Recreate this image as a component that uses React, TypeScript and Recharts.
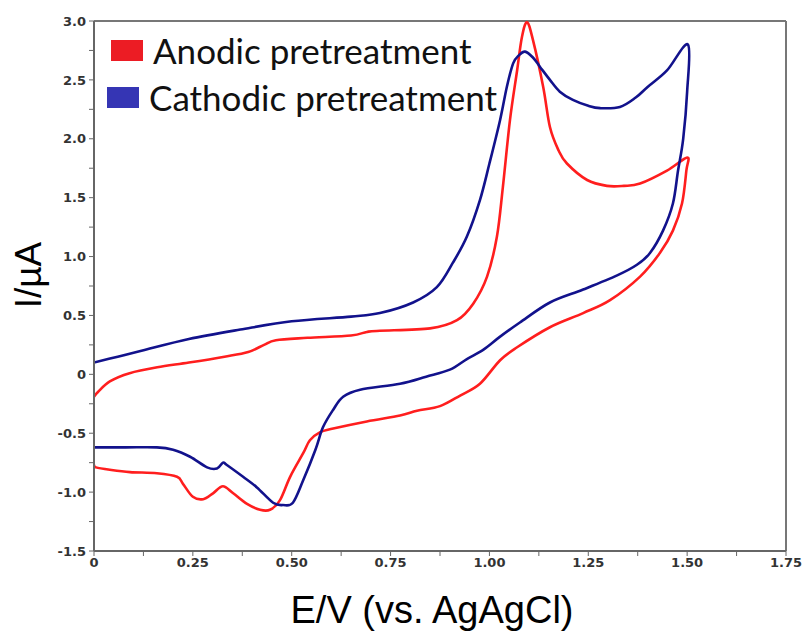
import { Legend, Line, LineChart, ReferenceLine, XAxis, YAxis } from 'recharts';

// potential (V) and current (µA), in scan order
const anodicE = [
  0, 0.01, 0.04, 0.09, 0.16, 0.24, 0.33, 0.39, 0.43, 0.46, 0.54, 0.65, 0.69, 0.723, 0.85, 0.918, 0.959, 0.994,
  1.019, 1.034, 1.052, 1.07, 1.082, 1.095, 1.11, 1.136, 1.153, 1.175, 1.196, 1.247, 1.297, 1.34, 1.381, 1.449, 1.5,
  1.498, 1.487, 1.464, 1.431, 1.381, 1.305, 1.237, 1.153, 1.07, 1.027, 0.976, 0.926, 0.875, 0.817,
  0.774, 0.69, 0.605, 0.572, 0.546, 0.529, 0.496, 0.47, 0.445, 0.42, 0.387, 0.352, 0.326, 0.301, 0.276,
  0.25, 0.225, 0.21, 0.159, 0.091, 0.04, 0.005, 0,
];
const anodicI = [
  -0.19, -0.15, -0.06, 0.01, 0.06, 0.1, 0.15, 0.19, 0.25, 0.29, 0.31, 0.33, 0.36, 0.37, 0.39, 0.46, 0.6, 0.83,
  1.17, 1.59, 2.16, 2.58, 2.86, 2.99, 2.84, 2.44, 2.1, 1.9, 1.79, 1.65, 1.6, 1.6, 1.62, 1.73, 1.84,
  1.73, 1.45, 1.22, 1.03, 0.83, 0.63, 0.52, 0.4, 0.23, 0.12, -0.08, -0.18, -0.27, -0.31,
  -0.35, -0.4, -0.46, -0.49, -0.56, -0.67, -0.87, -1.07, -1.15, -1.15, -1.1, -1.01, -0.95, -1.01, -1.06,
  -1.04, -0.93, -0.87, -0.84, -0.83, -0.81, -0.79, -0.77,
];

const cathodicE = [
  0, 0.06, 0.12, 0.24, 0.37, 0.5, 0.65, 0.723, 0.807, 0.867, 0.908, 0.943, 0.976, 1.0, 1.027, 1.044, 1.06,
  1.075, 1.09, 1.11, 1.128, 1.153, 1.178, 1.211, 1.25, 1.28, 1.33, 1.37, 1.4, 1.449, 1.502,
  1.5, 1.49, 1.477, 1.464, 1.439, 1.406, 1.373, 1.323, 1.237, 1.153, 1.077, 1.027, 0.985, 0.943, 0.9, 0.84,
  0.774, 0.673, 0.63, 0.605, 0.579, 0.56, 0.529, 0.503, 0.478, 0.453, 0.412, 0.377, 0.336, 0.326,
  0.311, 0.286, 0.243, 0.2, 0.159, 0.08, 0,
];
const cathodicI = [
  0.1, 0.15, 0.2, 0.3, 0.38, 0.45, 0.49, 0.52, 0.61, 0.74, 0.95, 1.17, 1.48, 1.79, 2.16, 2.44, 2.64,
  2.71, 2.74, 2.69, 2.61, 2.5, 2.4, 2.33, 2.28, 2.26, 2.27, 2.35, 2.44, 2.58, 2.8,
  2.4, 2.0, 1.73, 1.45, 1.22, 1.03, 0.93, 0.84, 0.72, 0.61, 0.44, 0.32, 0.21, 0.13, 0.04, -0.02,
  -0.08, -0.13, -0.19, -0.3, -0.45, -0.64, -0.9, -1.09, -1.11, -1.09, -0.96, -0.87, -0.77, -0.75,
  -0.8, -0.79, -0.7, -0.64, -0.62, -0.62, -0.62,
];

const xTicks = [0, 0.125, 0.25, 0.375, 0.5, 0.625, 0.75, 0.875, 1, 1.125, 1.25, 1.375, 1.5, 1.625, 1.75];
const xLabels: Record<string, string> = {
  '0': '0', '0.25': '0.25', '0.5': '0.50', '0.75': '0.75', '1': '1.00', '1.25': '1.25', '1.5': '1.50', '1.75': '1.75',
};
const yTicks = [-1.5, -1.25, -1, -0.75, -0.5, -0.25, 0, 0.25, 0.5, 0.75, 1, 1.25, 1.5, 1.75, 2, 2.25, 2.5, 2.75, 3];
const yLabels: Record<string, string> = {
  '-1.5': '-1.5', '-1': '-1.0', '-0.5': '-0.5', '0': '0', '0.5': '0.5', '1': '1.0', '1.5': '1.5', '2': '2.0', '2.5': '2.5', '3': '3.0',
};

const zip = (e: number[], i: number[]) => e.map((x, k) => ({ x, y: i[k] }));
const anodic = zip(anodicE, anodicI);
const cathodic = zip(cathodicE, cathodicI);

const RED = '#ff1e1e';
const BLUE = '#12128c';
const swatch: Record<string, string> = { [RED]: '#ec1c24', [BLUE]: '#3535b4' };

const tickStyle = { fontFamily: 'DejaVu Sans', fontWeight: 700, fontSize: 13, fill: '#333' };

// catmull-rom through the points; the scans loop back on x so monotone curves won't do
function smooth(ctx: any) {
  let pts: number[][] = [];
  return {
    areaStart() {},
    areaEnd() {},
    lineStart() { pts = []; },
    point(x: number, y: number) { pts.push([+x, +y]); },
    lineEnd() {
      const n = pts.length;
      if (!n) return;
      ctx.moveTo(pts[0][0], pts[0][1]);
      for (let i = 0; i < n - 1; i++) {
        const p0 = pts[Math.max(i - 1, 0)], p1 = pts[i], p2 = pts[i + 1], p3 = pts[Math.min(i + 2, n - 1)];
        ctx.bezierCurveTo(
          p1[0] + (p2[0] - p0[0]) / 6, p1[1] + (p2[1] - p0[1]) / 6,
          p2[0] - (p3[0] - p1[0]) / 6, p2[1] - (p3[1] - p1[1]) / 6,
          p2[0], p2[1],
        );
      }
    },
  };
}

function LegendBox({ payload }: any) {
  return (
    <div style={{ fontFamily: 'Lato', fontSize: 35, color: '#111' }}>
      {(payload || []).map((p: any, k: number) => (
        <div key={p.value} style={{ display: 'flex', alignItems: 'center', height: 47, marginLeft: k === 0 ? 2 : -2 }}>
          <span style={{ display: 'inline-block', width: 32, height: 21, background: swatch[p.color] || p.color, marginRight: 10 }} />
          <span style={{ lineHeight: 1 }}>{p.value}</span>
        </div>
      ))}
    </div>
  );
}

export default function App() {
  // absolute so the body margin doesn't push the page past the window and add a scrollbar
  return (
    <div style={{ position: 'absolute', left: 8, top: 8, width: 796, height: 624, background: '#fff' }}>
      <LineChart width={796} height={624} margin={{ top: 13, right: 18, bottom: 0, left: 0 }}>
        <XAxis
          type="number" dataKey="x" domain={[0, 1.75]} ticks={xTicks} allowDataOverflow
          tickFormatter={(v) => xLabels[String(v)] ?? ''} height={81} tickSize={5} tickMargin={2}
          axisLine={{ stroke: '#666', strokeWidth: 2 }} tickLine={{ stroke: '#666' }} tick={tickStyle}
          label={{
            content: ({ viewBox }: any) => (
              <text x={viewBox.x + viewBox.width / 2 - 8} y={615} textAnchor="middle"
                style={{ fontFamily: 'Liberation Sans', fontSize: 38, fill: '#000' }}>E/V (vs. AgAgCl)</text>
            ),
          }}
        />
        <YAxis
          type="number" dataKey="y" domain={[-1.5, 3]} ticks={yTicks} allowDataOverflow
          tickFormatter={(v) => yLabels[String(v)] ?? ''} width={86} tickSize={5} tickMargin={3}
          axisLine={{ stroke: '#666', strokeWidth: 2 }} tickLine={{ stroke: '#666' }} tick={tickStyle}
          label={{
            content: () => (
              <text x={33} y={267} textAnchor="middle" transform="rotate(-90 33 267)"
                style={{ fontFamily: 'Liberation Sans', fontSize: 37, fill: '#000' }}>I/µA</text>
            ),
          }}
        />
        <ReferenceLine y={3} stroke="#777" strokeWidth={2} />
        <ReferenceLine x={1.75} stroke="#777" strokeWidth={2} />
        <Legend
          layout="horizontal" verticalAlign="middle" align="center" content={<LegendBox />}
          wrapperStyle={{ top: 19, left: 101, width: 'auto', height: 'auto' }}
        />
        <Line data={anodic} dataKey="y" name="Anodic pretreatment" type={smooth as any} stroke={RED}
          strokeWidth={2.6} dot={false} isAnimationActive={false} />
        <Line data={cathodic} dataKey="y" name="Cathodic pretreatment" type={smooth as any} stroke={BLUE}
          strokeWidth={2.6} dot={false} isAnimationActive={false} />
      </LineChart>
    </div>
  );
}
